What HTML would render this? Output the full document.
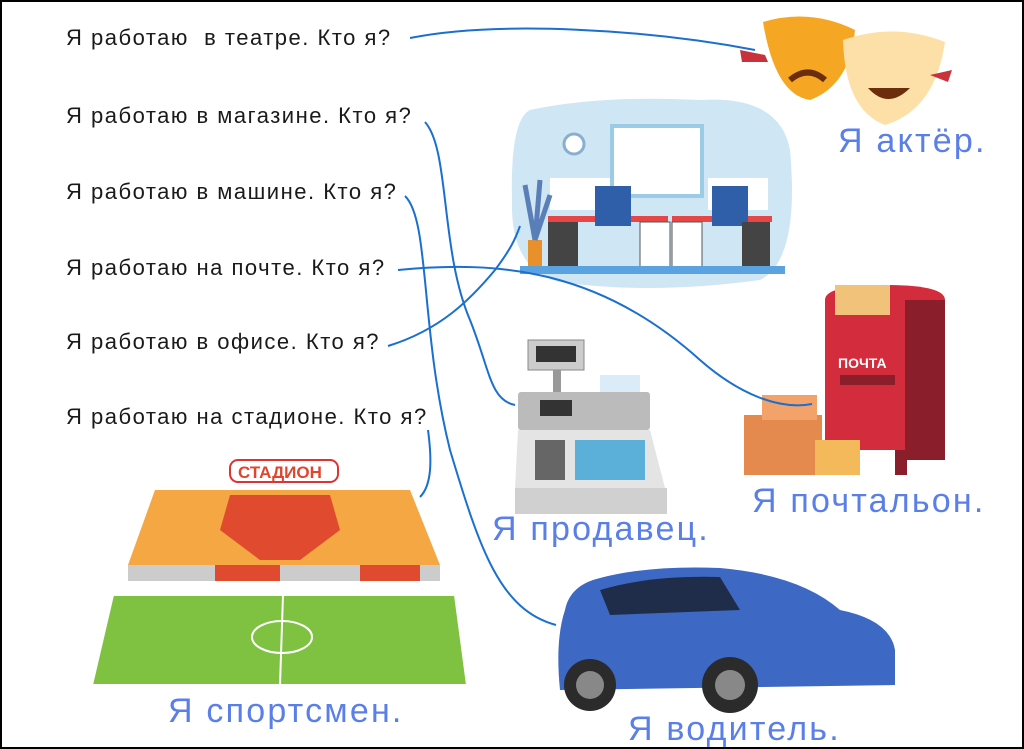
<!DOCTYPE html>
<html><head><meta charset="utf-8"><style>
html,body{margin:0;padding:0;background:#fff}
#c{position:relative;width:1024px;height:749px;overflow:hidden}
.q{position:absolute;left:66px;font:22px "Liberation Sans",sans-serif;color:#1a1a1a;letter-spacing:1.5px;white-space:nowrap}
.a{position:absolute;font:34px "Liberation Sans",sans-serif;color:#5b7fe8;letter-spacing:2.2px;white-space:nowrap}
</style></head><body><div id="c">
<svg width="1024" height="749" style="position:absolute;left:0;top:0">
<rect x="1" y="1" width="1022" height="747" fill="none" stroke="#000" stroke-width="2"/>
<!-- office -->
<path d="M530 110 Q600 95 700 100 Q780 95 790 150 Q800 260 760 280 Q650 295 560 282 Q510 270 512 200 Q510 120 530 110Z" fill="#cfe6f5"/>
<rect x="612" y="126" width="90" height="70" fill="#fff" stroke="#9ccbe6" stroke-width="4"/>
<circle cx="574" cy="144" r="10" fill="#fff" stroke="#8aaed0" stroke-width="3"/>
<rect x="550" y="178" width="60" height="32" fill="#fff"/><rect x="708" y="178" width="60" height="32" fill="#fff"/>
<rect x="548" y="216" width="120" height="6" fill="#e64646"/><rect x="672" y="216" width="100" height="6" fill="#e64646"/>
<rect x="595" y="186" width="36" height="40" fill="#2f5fa8"/><rect x="712" y="186" width="36" height="40" fill="#2f5fa8"/>
<rect x="548" y="222" width="30" height="50" fill="#444"/><rect x="742" y="222" width="28" height="50" fill="#444"/>
<rect x="640" y="222" width="30" height="50" fill="#fff" stroke="#555"/><rect x="672" y="222" width="30" height="50" fill="#fff" stroke="#555"/>
<rect x="528" y="240" width="14" height="30" fill="#e8912b"/>
<path d="M535 240 L525 185 M535 240 L540 180 M535 240 L550 195" stroke="#5a7fb8" stroke-width="5"/>
<rect x="520" y="266" width="265" height="8" fill="#5aa3e0"/>
<!-- masks -->
<path d="M763 22 Q810 8 855 30 Q850 85 810 100 Q775 95 763 22Z" fill="#f5a623"/>
<path d="M843 40 Q895 22 945 42 Q935 110 885 125 Q845 110 843 40Z" fill="#fde0a8"/>
<path d="M790 80 Q808 65 825 80" stroke="#6b2d0c" stroke-width="6" fill="none"/>
<path d="M868 88 Q888 110 910 88Z" fill="#6b2d0c"/>
<path d="M740 50 L765 55 L768 62 L742 62Z" fill="#c9323a"/><path d="M930 75 L952 70 L948 82Z" fill="#c9323a"/>
<!-- cash register -->
<rect x="528" y="340" width="56" height="30" fill="#ccc" stroke="#888"/><rect x="536" y="346" width="40" height="16" fill="#333"/>
<rect x="553" y="370" width="8" height="25" fill="#999"/>
<rect x="600" y="375" width="40" height="40" fill="#d9ecf8"/>
<rect x="518" y="392" width="132" height="38" fill="#bbb" rx="3"/><rect x="540" y="400" width="32" height="16" fill="#333"/>
<path d="M518 430 L650 430 L665 488 L515 488Z" fill="#e4e4e4"/>
<rect x="515" y="488" width="152" height="26" fill="#d0d0d0"/>
<rect x="535" y="440" width="30" height="40" fill="#666"/>
<rect x="575" y="440" width="70" height="40" fill="#5ab0d8"/>
<!-- mailbox -->
<path d="M825 300 Q825 285 885 285 Q945 285 945 300 L945 450 L825 450Z" fill="#d32c3c"/>
<rect x="905" y="300" width="40" height="160" fill="#8a1e2a"/>
<rect x="840" y="375" width="55" height="10" fill="#8a1e2a"/>
<rect x="835" y="285" width="55" height="30" fill="#f0c27a"/>
<text x="838" y="368" font-family="Liberation Sans" font-weight="bold" font-size="14" fill="#fff">ПОЧТА</text>
<rect x="840" y="450" width="12" height="25" fill="#8a1e2a"/><rect x="895" y="450" width="12" height="25" fill="#8a1e2a"/>
<rect x="744" y="415" width="78" height="60" fill="#e48a4e"/><rect x="815" y="440" width="45" height="35" fill="#f4b95a"/>
<rect x="762" y="395" width="55" height="25" fill="#f3a36a"/>
<!-- stadium -->
<rect x="230" y="460" width="108" height="22" rx="8" fill="#fff" stroke="#d33" stroke-width="2"/>
<text x="238" y="478" font-family="Liberation Sans" font-weight="bold" font-size="17" fill="#e2452e">СТАДИОН</text>
<path d="M155 490 L410 490 L440 565 L128 565Z" fill="#f4a742"/>
<path d="M230 495 L330 495 L340 530 L300 560 L260 560 L220 530Z" fill="#e04a2e"/>
<rect x="128" y="565" width="312" height="16" fill="#ccc"/>
<rect x="215" y="565" width="65" height="16" fill="#e04a2e"/><rect x="360" y="565" width="60" height="16" fill="#e04a2e"/>
<path d="M113 595 L455 595 L467 685 L92 685Z" fill="#7fc241"/>
<path d="M113 595 L455 595 L467 685 L92 685Z M283 595 L280 685" fill="none" stroke="#fff" stroke-width="2"/>
<ellipse cx="282" cy="637" rx="30" ry="16" fill="none" stroke="#fff" stroke-width="2"/>
<!-- car -->
<path d="M565 610 Q570 585 600 578 Q650 565 720 568 Q800 575 840 610 Q890 620 895 650 L895 685 L560 690 Q555 640 565 610Z" fill="#3d68c4"/>
<path d="M600 590 Q650 575 720 577 L740 610 L610 615Z" fill="#1f2d4a"/>
<circle cx="590" cy="685" r="26" fill="#2b2b2b"/><circle cx="590" cy="685" r="14" fill="#888"/>
<circle cx="730" cy="685" r="28" fill="#2b2b2b"/><circle cx="730" cy="685" r="15" fill="#888"/>
<!-- connectors -->
<g fill="none" stroke="#1a6fd0" stroke-width="2">
<path d="M410 38 C500 20 650 30 755 50"/>
<path d="M425 122 C450 150 440 250 470 320 C490 370 490 400 515 405"/>
<path d="M405 196 C430 220 420 330 450 450 C480 550 500 610 556 625"/>
<path d="M398 270 C500 260 600 270 700 360 C740 395 780 410 812 404"/>
<path d="M388 346 C440 330 470 300 495 270 C510 250 515 240 520 226"/>
<path d="M428 430 C432 460 432 485 420 497"/>
</g>
</svg>
<div class="q" style="top:25px">Я работаю &nbsp;в театре. Кто я?</div>
<div class="q" style="top:103px">Я работаю в магазине. Кто я?</div>
<div class="q" style="top:179px">Я работаю в машине. Кто я?</div>
<div class="q" style="top:255px">Я работаю на почте. Кто я?</div>
<div class="q" style="top:329px">Я работаю в офисе. Кто я?</div>
<div class="q" style="top:404px">Я работаю на стадионе. Кто я?</div>
<div class="a" style="left:838px;top:122px">Я актёр.</div>
<div class="a" style="left:492px;top:510px">Я продавец.</div>
<div class="a" style="left:752px;top:482px">Я почтальон.</div>
<div class="a" style="left:168px;top:692px">Я спортсмен.</div>
<div class="a" style="left:628px;top:710px">Я водитель.</div>
</div></body></html>
